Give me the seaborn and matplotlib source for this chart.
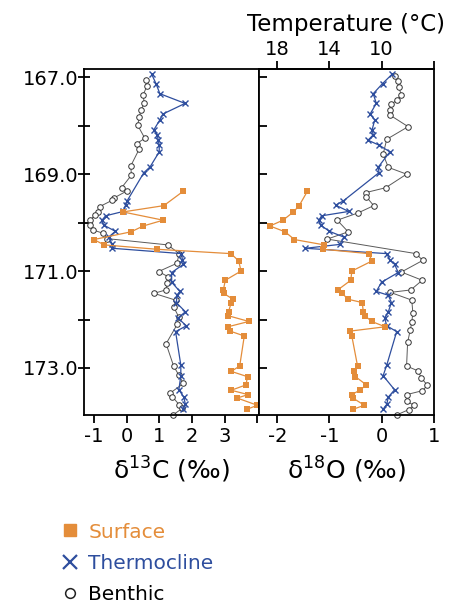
import numpy as np
import pandas as pd
import matplotlib
import seaborn as sns

matplotlib.use("Agg")
from matplotlib import pyplot as plt
from matplotlib.lines import Line2D

# surface (planktonic, mixed layer) - same samples in both panels
surf_depth = [169.35, 169.65, 169.78, 169.95, 170.07, 170.19, 170.35, 170.46, 170.55, 170.64,
              170.79, 171.00, 171.19, 171.39, 171.46, 171.58, 171.65, 171.84, 171.92, 172.04,
              172.15, 172.24, 172.34, 172.96, 173.07, 173.18, 173.35, 173.46, 173.55, 173.62,
              173.77, 173.85]
surf_d13c = [1.74, 1.14, -0.11, 1.12, 0.51, 0.14, -1.00, -0.68, 0.92, 3.19,
             3.43, 3.50, 3.02, 2.96, 2.97, 3.25, 3.20, 3.12, 3.10, 3.74,
             3.10, 3.17, 3.60, 3.46, 3.20, 3.70, 3.65, 3.20, 3.72, 3.38,
             4.00, 3.69]
surf_d18o = [-1.42, -1.58, -1.69, -1.89, -2.14, -1.85, -1.67, -1.10, -1.12, -0.25,
             -0.18, -0.57, -0.59, -0.84, -0.75, -0.65, -0.37, -0.35, -0.32, -0.19,
             0.07, -0.61, -0.57, -0.46, -0.53, -0.50, -0.29, -0.42, -0.57, -0.55,
             -0.33, -0.54]

# thermocline
therm_depth = [166.94, 167.13, 167.34, 167.54, 167.76, 167.88, 168.08, 168.19, 168.30, 168.40,
               168.54, 168.85, 168.97, 169.55, 169.64, 169.77, 169.86, 169.95, 170.05, 170.18,
               170.30, 170.45, 170.53, 170.64, 170.77, 170.86, 171.03, 171.23, 171.42, 171.50,
               171.65, 171.84, 171.97, 172.13, 172.25, 172.94, 173.16, 173.45, 173.60, 173.75,
               173.85]
therm_d13c = [0.77, 0.90, 1.02, 1.79, 1.11, 1.02, 0.84, 0.94, 0.97, 1.00,
              1.00, 0.72, 0.53, 0.02, -0.03, -0.10, -0.64, -0.75, -0.70, -0.34,
              -0.55, -0.43, -0.43, 1.68, 1.71, 1.74, 1.38, 1.38, 1.63, 1.55,
              1.52, 1.80, 1.57, 1.83, 1.50, 1.66, 1.66, 1.60, 1.75, 1.80,
              1.72]
therm_d18o = [0.20, 0.02, -0.16, -0.10, -0.22, -0.13, -0.18, -0.16, -0.26, -0.05,
              0.16, -0.06, -0.05, -0.73, -0.88, -0.63, -1.15, -1.20, -1.17, -1.00,
              -0.72, -0.80, -1.46, 0.10, 0.16, 0.25, 0.32, 0.00, -0.10, 0.13,
              0.19, 0.13, 0.06, 0.10, 0.29, 0.10, 0.03, 0.25, 0.13, 0.10,
              0.03]

# benthic
ben_c_depth = [167.05, 167.19, 167.36, 167.54, 167.68, 167.83, 167.99, 168.26, 168.37, 168.48,
               168.83, 169.02, 169.28, 169.34, 169.49, 169.54, 169.67, 169.78, 169.85, 169.95,
               170.05, 170.15, 170.22, 170.33, 170.46, 170.64, 170.84, 171.01, 171.12, 171.25,
               171.39, 171.46, 171.60, 171.75, 171.94, 172.10, 172.50, 172.96, 173.15, 173.32,
               173.52, 173.59, 173.76, 173.83, 173.97]
ben_d13c = [0.59, 0.62, 0.51, 0.54, 0.44, 0.39, 0.34, 0.56, 0.31, 0.39,
            0.13, 0.15, -0.15, 0.03, -0.38, -0.44, -0.82, -0.87, -0.97, -1.11,
            -1.13, -1.03, -0.72, -0.60, 1.26, 1.61, 1.54, 0.98, 1.28, 1.25,
            1.20, 0.84, 1.50, 1.45, 1.59, 1.55, 1.21, 1.44, 1.60, 1.74,
            1.33, 1.40, 1.61, 1.71, 1.42]
ben_o_depth = [166.98, 167.08, 167.20, 167.37, 167.47, 167.56, 167.67, 167.78, 168.02, 168.28,
               168.59, 168.86, 169.00, 169.28, 169.38, 169.47, 169.65, 169.80, 169.95, 170.19,
               170.34, 170.64, 170.78, 171.02, 171.19, 171.39, 171.44, 171.60, 171.86, 172.06,
               172.22, 172.47, 172.96, 173.06, 173.20, 173.36, 173.47, 173.55, 173.69, 173.77,
               173.86, 173.97]
ben_d18o = [0.25, 0.31, 0.33, 0.38, 0.29, 0.19, 0.16, 0.16, 0.51, 0.10,
            0.03, 0.13, 0.48, 0.08, -0.30, -0.29, -0.15, -0.45, -0.85, -0.64,
            -1.04, 0.66, 0.79, 0.38, 0.78, 0.56, 0.17, 0.58, 0.60, 0.58,
            0.55, 0.50, 0.48, 0.70, 0.76, 0.88, 0.78, 0.48, 0.49, 0.62,
            0.52, 0.29]

series_labels = ["Surface", "Thermocline", "Benthic"]
depth_ticks = [167, 168, 169, 170, 171, 172, 173]
depth_ticklabels = ["167.0", "", "169.0", "", "171.0", "", "173.0"]
c13_ticks = [-1, 0, 1, 2, 3, 4]
c13_ticklabels = ["-1", "0", "1", "2", "3", ""]
o18_ticks = [-2, -1, 0, 1]
temp_ticks = [18, 14, 10, 6]
temp_ticklabels = ["18", "14", "10", ""]

ORANGE = "#E48D3A"
BLUE = "#2E4E9E"
GREY = "#5a5a5a"

sns.set_theme(style="ticks")
plt.rcParams["font.family"] = ["DejaVu Sans"]
plt.rcParams["axes.unicode_minus"] = False
plt.rcParams["mathtext.default"] = "regular"
for key in ("text.color", "axes.labelcolor", "xtick.color", "ytick.color", "axes.edgecolor"):
    plt.rcParams[key] = "black"

styles = {
    "Surface": dict(color=ORANGE, marker="s", markersize=4.5, markeredgecolor=ORANGE,
                    markeredgewidth=0, linewidth=0.9),
    "Thermocline": dict(color=BLUE, marker="x", markersize=5, markeredgecolor=BLUE,
                        markeredgewidth=1.0, linewidth=0.9),
    "Benthic": dict(color=GREY, marker="o", markersize=4, markerfacecolor="white",
                    markeredgecolor="#333333", markeredgewidth=0.7, linewidth=0.7),
}


def draw(ax, x, y, name):
    sns.lineplot(x=x, y=y, ax=ax, sort=False, estimator=None, legend=False,
                 clip_on=False, **styles[name])


fig = plt.figure(figsize=(4.63, 6.09), dpi=100)
ax_c = fig.add_axes([0.1814, 0.3186, 0.378, 0.5689])
ax_o = fig.add_axes([0.5594, 0.3186, 0.3773, 0.5689], sharey=ax_c)

draw(ax_c, ben_d13c, ben_c_depth, "Benthic")
draw(ax_c, therm_d13c, therm_depth, "Thermocline")
draw(ax_c, surf_d13c, surf_depth, "Surface")
draw(ax_o, ben_d18o, ben_o_depth, "Benthic")
draw(ax_o, therm_d18o, therm_depth, "Thermocline")
draw(ax_o, surf_d18o, surf_depth, "Surface")

ax_c.set_xlim(-1.3, 4.05)
ax_o.set_xlim(-2.35, 1.0)
ax_c.set_ylim(173.97, 166.82)
ax_c.set_yticks(depth_ticks, labels=depth_ticklabels)
ax_c.set_xticks(c13_ticks, labels=c13_ticklabels)
ax_o.set_xticks(o18_ticks, labels=[str(t) for t in o18_ticks])

for ax in (ax_c, ax_o):
    for sp in ax.spines.values():
        sp.set_visible(True)
        sp.set_linewidth(1.3)
        sp.set_color("black")
    ax.tick_params(axis="x", direction="out", length=6, width=1.3, labelsize=14, pad=3)
    ax.set_ylabel("")

ax_c.tick_params(axis="y", direction="inout", length=8, width=1.3, labelsize=14, pad=0)
ax_o.tick_params(axis="y", direction="in", length=6, width=1.3, labelleft=False)

ax_c.set_xlabel(r"$\delta^{13}$C (‰)", fontsize=18, labelpad=6)
ax_o.set_xlabel(r"$\delta^{18}$O (‰)", fontsize=18, labelpad=6)

temp = ax_o.secondary_xaxis("top", functions=(lambda d: 10 - 4 * d, lambda t: (10 - t) / 4))
temp.set_xticks(temp_ticks, labels=temp_ticklabels)
temp.tick_params(direction="out", length=6, width=1.3, labelsize=14, pad=1)
temp.spines["top"].set_linewidth(1.3)
temp.set_xlabel("Temperature (°C)", fontsize=16.5, labelpad=6)

handles = [
    Line2D([], [], ls="none", marker="s", color=ORANGE, markeredgecolor=ORANGE, markersize=9),
    Line2D([], [], ls="none", marker="x", color=BLUE, markeredgecolor=BLUE, markersize=10,
           markeredgewidth=1.6),
    Line2D([], [], ls="none", marker="o", markerfacecolor="white", markeredgecolor="#222222",
           markersize=7, markeredgewidth=1.1),
]
fig.legend(handles, series_labels, loc="upper left", bbox_to_anchor=(0.134, 0.142),
           frameon=False, fontsize=14.5, labelcolor=[ORANGE, BLUE, "black"],
           handlelength=0.8, handletextpad=0.5, labelspacing=0.62,
           borderpad=0, borderaxespad=0)

fig.savefig("out.png", dpi=100)
plt.close(fig)
